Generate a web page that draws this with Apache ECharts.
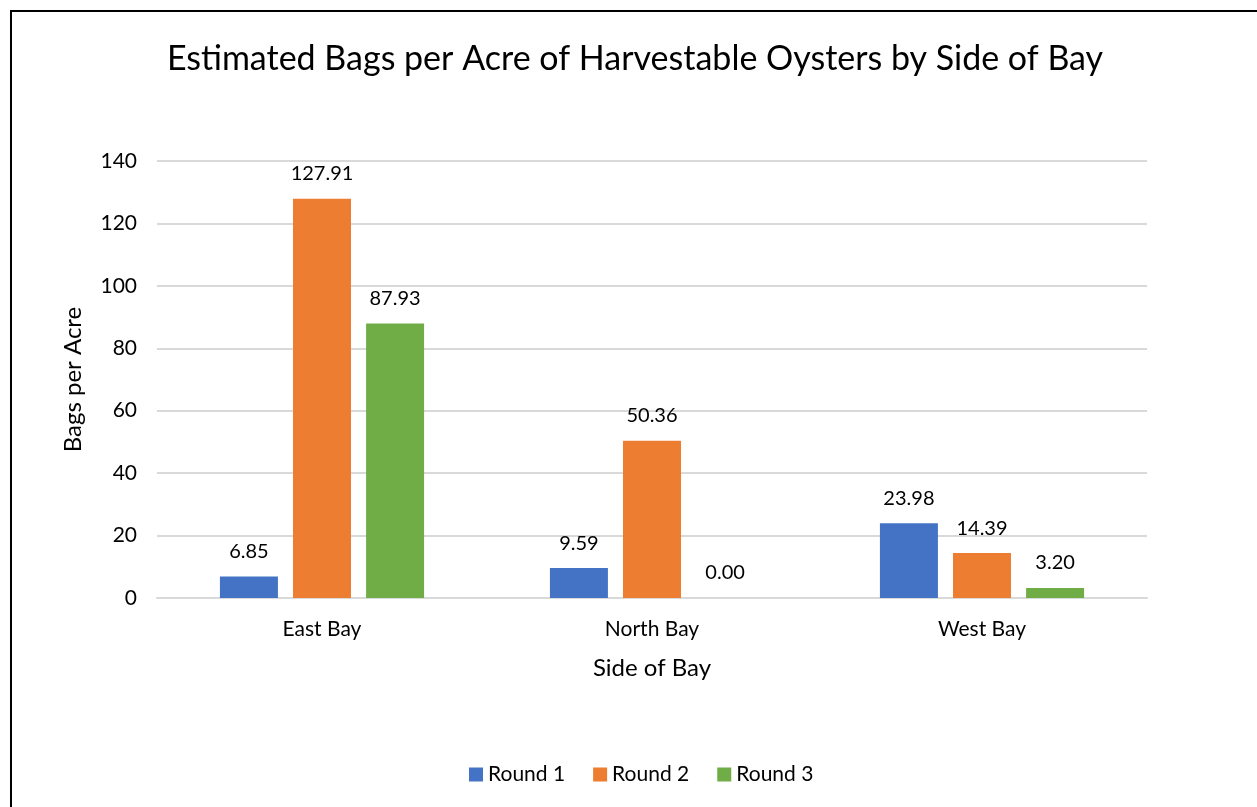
<!DOCTYPE html>
<html>
<head>
<meta charset="utf-8">
<script src="https://cdn.jsdelivr.net/npm/echarts@6/dist/echarts.min.js"></script>
<style>
  html, body { margin: 0; padding: 0; background: #fff; }
  #chart { width: 1257px; height: 807px; }
</style>
</head>
<body>
<div id="chart"></div>
<script>
const categories = ['East Bay', 'North Bay', 'West Bay'];
const seriesNames = ['Round 1', 'Round 2', 'Round 3'];
const round1 = [6.85, 9.59, 23.98];
const round2 = [127.91, 50.36, 14.39];
const round3 = [87.93, 0.00, 3.20];
const colors = ['#4472c4', '#ed7d31', '#70ad47'];

const chart = echarts.init(document.getElementById('chart'));
const font = "Lato, 'Open Sans', sans-serif";

const makeSeries = (name, data, i) => ({
    name: name,
    type: 'bar',
    data: data,
    barWidth: 58,
    barGap: '26%',
    itemStyle: { color: colors[i] },
    label: {
        show: true,
        position: 'top',
        distance: 15,
        formatter: (p) => p.value.toFixed(2),
        color: '#000',
        fontSize: 20,
        fontFamily: font
    }
});

const options = {
    animation: false,
    textStyle: { fontFamily: font },
    title: {
        text: 'Estimated Bags per Acre of Harvestable Oysters by Side of Bay',
        left: 630,
        textAlign: 'center',
        top: 37,
        textStyle: { fontSize: 34, fontWeight: 'normal', color: '#000', fontFamily: font }
    },
    legend: {
        bottom: 17,
        left: 464,
        itemWidth: 14,
        itemHeight: 14,
        itemGap: 28,
        icon: 'rect',
        textStyle: { fontSize: 21, color: '#000', fontFamily: font },
        data: seriesNames
    },
    grid: { left: 157, right: 110, top: 161, bottom: 209, containLabel: false },
    xAxis: {
        type: 'category',
        data: categories,
        name: 'Side of Bay',
        nameLocation: 'middle',
        nameGap: 58,
        nameTextStyle: { fontSize: 24, color: '#000', fontFamily: font },
        axisLine: { lineStyle: { color: '#d9d9d9', width: 2 } },
        axisTick: { show: false },
        axisLabel: { fontSize: 21, color: '#000', margin: 21, fontFamily: font }
    },
    yAxis: {
        type: 'value',
        min: 0,
        max: 140,
        interval: 20,
        name: 'Bags per Acre',
        nameLocation: 'middle',
        nameGap: 72,
        nameTextStyle: { fontSize: 24, color: '#000', fontFamily: font },
        axisLine: { show: false },
        axisTick: { show: false },
        axisLabel: { fontSize: 21, color: '#000', margin: 20, fontFamily: font },
        splitLine: { lineStyle: { color: '#d9d9d9', width: 2 } }
    },
    graphic: [{
        type: 'rect',
        shape: { x: 11, y: 11, width: 1300, height: 900 },
        style: { fill: 'none', stroke: '#000', lineWidth: 2 },
        silent: true
    }],
    series: [
        makeSeries(seriesNames[0], round1, 0),
        makeSeries(seriesNames[1], round2, 1),
        makeSeries(seriesNames[2], round3, 2)
    ]
};

chart.setOption(options);
</script>
</body>
</html>
